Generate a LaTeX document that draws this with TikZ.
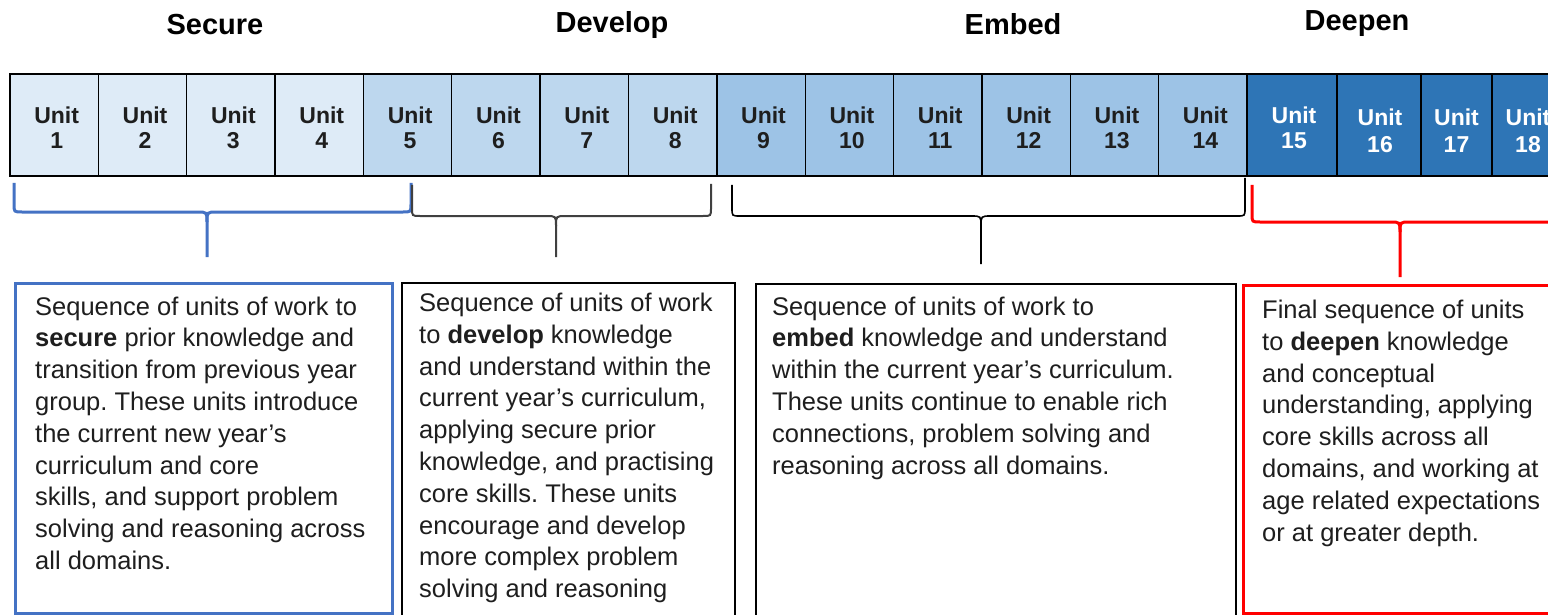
\documentclass[tikz,border=0pt]{standalone}
\usepackage{fontspec}
\setmainfont{Liberation Sans}
\frenchspacing
\definecolor{cA}{HTML}{DEEBF7}
\definecolor{cB}{HTML}{BDD7EE}
\definecolor{cC}{HTML}{9DC3E6}
\definecolor{cD}{HTML}{2E75B6}
\definecolor{bblue}{HTML}{4472C4}
\definecolor{bgray}{HTML}{404040}
\definecolor{txt}{HTML}{1E1E1E}
\newcommand\mybrace[8]{%
  \draw[#1] (#2,#3) -- (#2,#6-8) .. controls (#2,#6) .. (#2+8,#6) -- (#7-10,#6) .. controls (#7,#6) .. (#7,#6+10) -- (#7,#8);
  \draw[#1] (#7,#6+10) .. controls (#7,#6) .. (#7+10,#6) -- (#4-8,#6) .. controls (#4,#6) .. (#4,#6-8) -- (#4,#5);
}
\tikzset{
  cell/.style={draw=black, line width=1.4pt, minimum height=102pt, inner sep=0pt, outer sep=0pt},
  unittxt/.style={font=\bfseries\fontsize{23}{25}\selectfont, align=center, inner sep=0pt},
  header/.style={font=\bfseries\fontsize{29}{32}\selectfont, anchor=base, inner sep=0pt, text=black},
  body/.style={font=\fontsize{25.5}{31.8}\selectfont, align=left, anchor=north west, inner sep=0pt, text=txt},
}
\begin{document}
\begin{tikzpicture}[x=1pt, y=-1pt]
\useasboundingbox (0,0) rectangle (1548,615);
\clip (0,0) rectangle (1548,615);
\fill[white] (0,0) rectangle (1548,615);

% headers
\node[header] (hsec) at (215,35) {Secure};
\node[header] (hdev) at (612,33) {Develop};
\node[header] (hemb) at (1013,35) {Embed};
\node[header] (hdee) at (1357,31) {Deepen};

% unit cells 1-14
\foreach \i/\col in {1/cA,2/cA,3/cA,4/cA,5/cB,6/cB,7/cB,8/cB,9/cC,10/cC,11/cC,12/cC,13/cC,14/cC}{
  \pgfmathsetmacro{\xc}{10+88.357*(\i-0.5)}
  \node[cell, fill=\col, minimum width=88.357pt] (c\i) at (\xc,125) {};
  \node[unittxt, text=txt] (t\i) at ([xshift=2.5pt,yshift=-2.5pt]c\i.center) {Unit\\\i};
}
% unit cells 15-18
\node[cell, fill=cD, minimum width=90pt] (c15) at (1292,125) {};
\node[cell, fill=cD, minimum width=84pt] (c16) at (1379,125) {};
\node[cell, fill=cD, minimum width=71pt] (c17) at (1456.5,125) {};
\node[cell, fill=cD, minimum width=72pt] (c18) at (1528,125) {};
\node[unittxt, text=white] (t15) at ([xshift=2pt,yshift=-2.5pt]c15.center) {Unit\\15};
\node[unittxt, text=white, font=\bfseries\fontsize{23}{27}\selectfont] (t16) at ([xshift=1pt,yshift=-6pt]c16.center) {Unit\\16};
\node[unittxt, text=white, font=\bfseries\fontsize{23}{27}\selectfont] (t17) at ([yshift=-6pt]c17.center) {Unit\\17};
\node[unittxt, text=white, font=\bfseries\fontsize{23}{27}\selectfont] (t18) at ([yshift=-6pt]c18.center) {Unit\\18};

% braces
\mybrace{bblue, line width=3pt}{14}{183}{411}{183}{212}{207}{257}
\mybrace{bgray, line width=2pt}{412}{185}{711}{184}{216}{556}{257}
\mybrace{black, line width=1.6pt}{732}{185}{1245}{178}{216}{981}{264}
\mybrace{red, line width=3pt}{1252}{185}{1600}{185}{222}{1400}{277}

% description boxes
\draw[bblue, line width=3pt] (15,283) rectangle (392,613);
\draw[black, line width=1.5pt] (402,283) rectangle (735,640);
\draw[black, line width=1.5pt] (756,284) rectangle (1236,640);
\draw[red, line width=3pt] (1243,285) rectangle (1600,613);

\node[body] (d1) at (35,292.6) {\strut Sequence of units of work to\\
\textbf{secure} prior knowledge and\\
transition from previous year\\
group. These units introduce\\
the current new year's\\
curriculum and core\\
skills, and support problem\\
solving and reasoning across\\
all domains.};

\node[body] (d2) at (419,289) {\strut Sequence of units of work\\
to \textbf{develop} knowledge\\
and understand within the\\
current year's curriculum,\\
applying secure prior\\
knowledge, and practising\\
core skills. These units\\
encourage and develop\\
more complex problem\\
solving and reasoning};

\node[body] (d3) at (772,292.6) {\strut Sequence of units of work to\\
\textbf{embed} knowledge and understand\\
within the current year's curriculum.\\
These units continue to enable rich\\
connections, problem solving and\\
reasoning across all domains.};

\node[body] (d4) at (1262,296) {\strut Final sequence of units\\
to \textbf{deepen} knowledge\\
and conceptual\\
understanding, applying\\
core skills across all\\
domains, and working at\\
age related expectations\\
or at greater depth.};
\end{tikzpicture}
\end{document}
